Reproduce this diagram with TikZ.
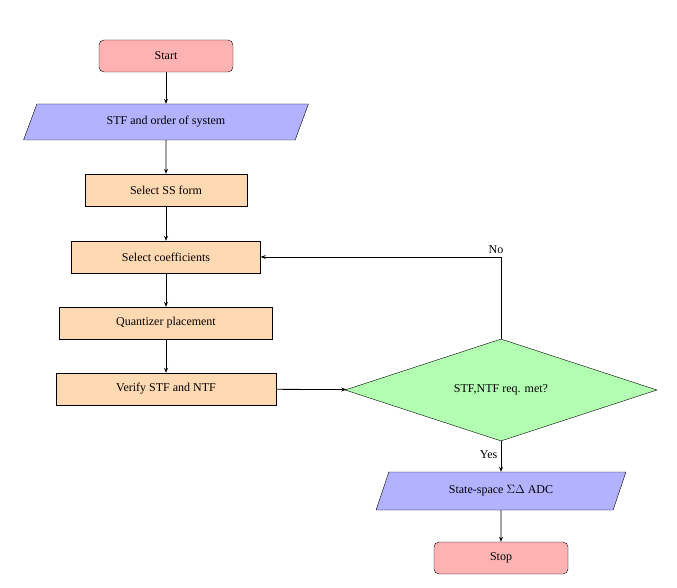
\documentclass[tikz,border=0pt]{standalone}
\usepackage{fontspec}
\setmainfont{Liberation Serif}
\usetikzlibrary{shapes.geometric,arrows.meta}
\tikzset{
	flowpicture/.style = {
		x = 1pt, y = -1pt,
		font = \fontsize{12}{14}\selectfont,
		arrow/.style = {draw, thick, -{Stealth[length=5pt,width=4pt]}}
	},
	startstop/.style = {rectangle, rounded corners=5pt, draw, fill=red!30,
		minimum width=134pt, minimum height=32pt},
	io/.style = {trapezium, trapezium left angle=70, trapezium right angle=110,
		trapezium stretches=true, draw, fill=blue!30, minimum height=36pt},
	process/.style = {rectangle, draw, fill=orange!30, minimum height=32pt},
	decision/.style = {diamond, aspect=3, draw, fill=green!30,
		minimum width=312pt, minimum height=102pt, inner sep=0pt}
}
\begin{document}
\begin{tikzpicture}[flowpicture]
	\useasboundingbox (0,0) rectangle (677,588);
	\node[startstop] (start) at (166,56) {Start};
	\node[io, minimum width=285pt] (in) at (166,122) {STF and order of system};
	\node[process, minimum width=162pt] (ss) at (166,190) {Select SS form};
	\node[process, minimum width=189pt] (coef) at (166,257) {Select coefficients};
	\node[process, minimum width=213pt] (quant) at (166,323) {Quantizer placement};
	\node[process, minimum width=220pt] (verify) at (166,389) {Verify STF and NTF};
	\node[decision] (dec) at (501,390) {STF,NTF req. met?};
	\node[io, minimum width=250pt, minimum height=38pt] (out) at (501,491) {State-space $\Sigma\Delta$ ADC};
	\node[startstop] (stop) at (501,558) {Stop};
	\coordinate (corner) at (501,257);

	\begin{scope}[every path/.style = arrow]
		\path (start) -- (in);
		\path (in) -- (ss);
		\path (ss) -- (coef);
		\path (coef) -- (quant);
		\path (quant) -- (verify);
		\path (verify) -- (dec);
		\path (dec) -- node[left, pos=0.45] {Yes} (out);
		\path (out) -- (stop);
		\path (dec) -- (corner) node[above right, xshift=-16pt] {No} -- (coef);
	\end{scope}
\end{tikzpicture}
\end{document}
